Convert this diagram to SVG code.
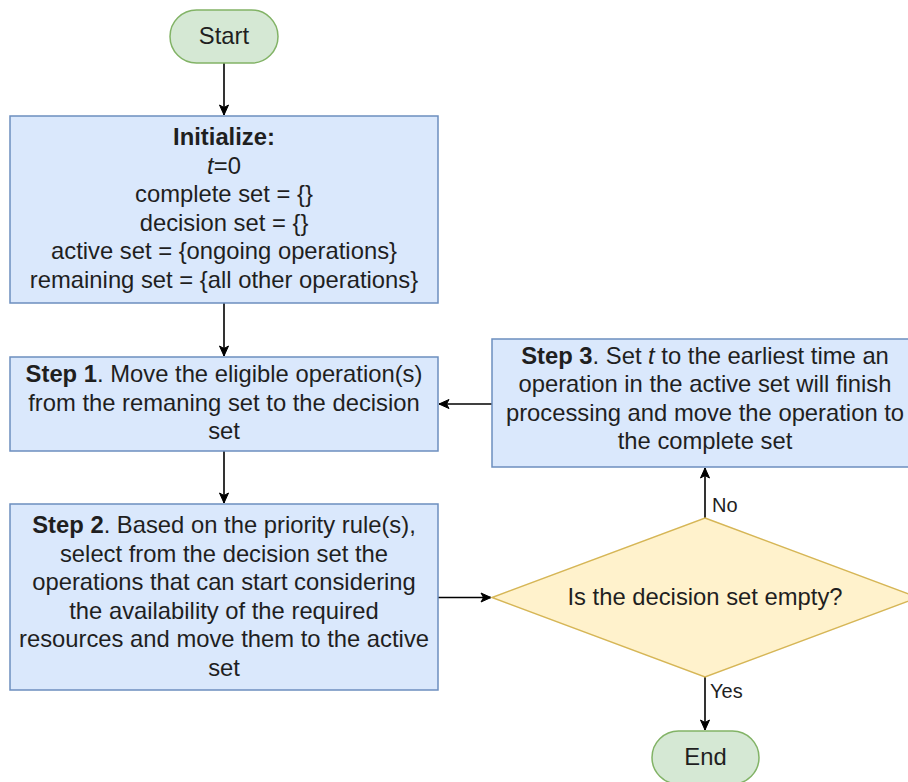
<svg xmlns="http://www.w3.org/2000/svg" width="908" height="782" viewBox="0 0 908 782">
  <style>
    text { font-family: "Liberation Sans", Arial, Helvetica, sans-serif; font-size: 23.8px; fill: #1f1f1f; text-anchor: middle; }
    .lbl { font-size: 20px; text-anchor: start; }
    .b { font-weight: bold; }
    .i { font-style: italic; }
    .proc { fill: #dae8fc; stroke: #6c8ebf; stroke-width: 1.5; }
    .term { fill: #d5e8d4; stroke: #82b366; stroke-width: 1.5; }
    .dec { fill: #fff2cc; stroke: #d6b656; stroke-width: 1.5; }
    .edge { fill: none; stroke: #000; stroke-width: 1.6; marker-end: url(#arrow); }
  </style>
  <defs>
    <marker id="arrow" markerUnits="userSpaceOnUse" markerWidth="12" markerHeight="12" viewBox="0 0 12 12" refX="11" refY="6" orient="auto">
      <path d="M1,1.5 L11,6 L1,10.5 L3.5,6 Z" fill="#000" stroke="#000" stroke-width="1"/>
    </marker>
  </defs>

  <rect width="908" height="782" fill="#ffffff"/>

  <!-- connectors -->
  <g id="connectors">
    <path class="edge" d="M224,63 L224,115"/>
    <path class="edge" d="M224,303 L224,356"/>
    <path class="edge" d="M224,451 L224,503"/>
    <path class="edge" d="M438,597.5 L491,597.5"/>
    <path class="edge" d="M492,404 L439,404"/>
    <path class="edge" d="M705,518 L705,468"/>
    <path class="edge" d="M705,677 L705,730"/>
    <text class="lbl" x="712" y="512">No</text>
    <text class="lbl" x="710" y="698">Yes</text>
  </g>

  <g id="start">
    <rect class="term" x="170" y="10" width="108" height="53" rx="26.5" ry="26.5"/>
    <text x="224" y="44">Start</text>
  </g>

  <g id="initialize">
    <rect class="proc" x="10" y="116" width="428" height="187"/>
    <text x="224" y="145" class="b">Initialize:</text>
    <text x="224" y="173.6"><tspan class="i">t</tspan>=0</text>
    <text x="224" y="202.2">complete set = {}</text>
    <text x="224" y="230.8">decision set = {}</text>
    <text x="224" y="259.4">active set = {ongoing operations}</text>
    <text x="224" y="288">remaining set = {all other operations}</text>
  </g>

  <g id="step1">
    <rect class="proc" x="10" y="357" width="428" height="94"/>
    <text x="224" y="382"><tspan class="b">Step 1</tspan>. Move the eligible operation(s)</text>
    <text x="224" y="410.6">from the remaning set to the decision</text>
    <text x="224" y="439.2">set</text>
  </g>

  <g id="step2">
    <rect class="proc" x="10" y="504" width="428" height="186"/>
    <text x="224" y="533"><tspan class="b">Step 2</tspan>. Based on the priority rule(s),</text>
    <text x="224" y="561.6">select from the decision set the</text>
    <text x="224" y="590.2">operations that can start considering</text>
    <text x="224" y="618.8">the availability of the required</text>
    <text x="224" y="647.4">resources and move them to the active</text>
    <text x="224" y="676">set</text>
  </g>

  <g id="step3">
    <rect class="proc" x="492" y="339" width="426" height="128"/>
    <text x="705" y="363.5"><tspan class="b">Step 3</tspan>. Set <tspan class="i">t</tspan> to the earliest time an</text>
    <text x="705" y="392">operation in the active set will finish</text>
    <text x="705" y="420.6">processing and move the operation to</text>
    <text x="705" y="449.2">the complete set</text>
  </g>

  <g id="decision">
    <polygon class="dec" points="705,518 918,597.5 705,677 492,597.5"/>
    <text x="705" y="605">Is the decision set empty?</text>
  </g>

  <g id="end">
    <rect class="term" x="652" y="731" width="107" height="53" rx="26.5" ry="26.5"/>
    <text x="705.5" y="765">End</text>
  </g>
</svg>
